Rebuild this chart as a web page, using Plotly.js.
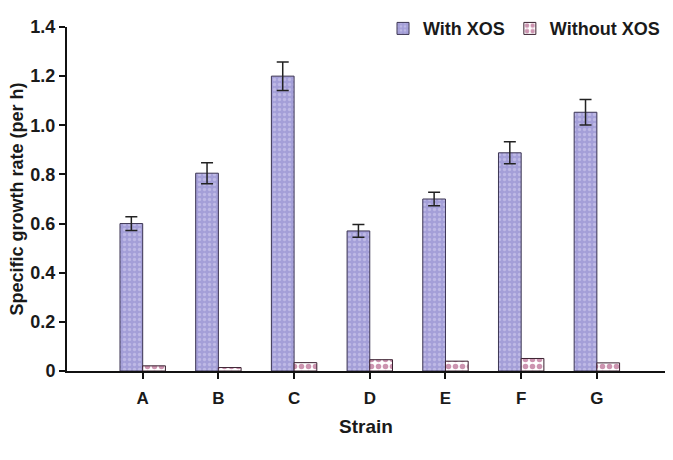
<!DOCTYPE html>
<html>
<head>
<meta charset="utf-8">
<script src="https://cdn.plot.ly/plotly-3.0.1.min.js"></script>
<style>html,body{margin:0;padding:0;background:#fff;}#chart{width:673px;height:460px;}</style>
</head>
<body>
<div id="chart"></div>
<script>
var strains = ["A", "B", "C", "D", "E", "F", "G"];
var withXOS = [0.60, 0.805, 1.20, 0.57, 0.70, 0.888, 1.053];
var withXOSErr = [0.028, 0.043, 0.058, 0.026, 0.027, 0.045, 0.052];
var withoutXOS = [0.021, 0.014, 0.034, 0.046, 0.040, 0.051, 0.033];
var yTicks = [0, 0.2, 0.4, 0.6, 0.8, 1.0, 1.2, 1.4];
var yTickText = ["0", "0.2", "0.4", "0.6", "0.8", "1.0", "1.2", "1.4"];

var fam = "Liberation Sans, Arial, sans-serif";
var txt = "#1a1a1a";

var traces = [
  {
    type: "bar", name: "With XOS", x: strains, y: withXOS,
    marker: {color: "#a49fd8", line: {color: "#3b3452", width: 1},
             pattern: {shape: ".", fgcolor: "#d8d4f2", bgcolor: "#a49fd8", size: 5, solidity: 0.35, fillmode: "overlay"}},
    error_y: {type: "data", array: withXOSErr, visible: true, color: "#222", thickness: 1.5, width: 6}
  },
  {
    type: "bar", name: "Without XOS", x: strains, y: withoutXOS,
    marker: {color: "#ffffff", line: {color: "#3a2030", width: 1},
             pattern: {shape: ".", fgcolor: "#9a2a62", bgcolor: "#ffffff", size: 7, solidity: 0.5, fillmode: "overlay"}}
  }
];

var layout = {
  width: 673, height: 460,
  margin: {l: 67, r: 8, t: 27, b: 89},
  paper_bgcolor: "#ffffff", plot_bgcolor: "#ffffff",
  barmode: "group", bargap: 0.4, bargroupgap: 0,
  font: {family: fam, size: 17, color: txt, weight: "bold"},
  showlegend: true,
  legend: {orientation: "h", x: 1.0, xanchor: "right", y: 0.995, yanchor: "middle",
           font: {family: fam, size: 18, color: txt, weight: "bold"},
           bgcolor: "rgba(0,0,0,0)", itemwidth: 30, traceorder: "normal"},
  xaxis: {
    type: "category", range: [-1, 6.9], showline: true, linecolor: "#111", linewidth: 2,
    ticks: "outside", ticklen: 6, tickwidth: 2, tickcolor: "#111", ticklabelstandoff: 5,
    showgrid: false, zeroline: false, fixedrange: true,
    tickfont: {family: fam, size: 17, color: txt, weight: "bold"},
    title: {text: "Strain", font: {family: fam, size: 19, color: txt, weight: "bold"}, standoff: 12}
  },
  yaxis: {
    range: [0, 1.4], tickvals: yTicks, ticktext: yTickText, showline: true, linecolor: "#111", linewidth: 2,
    ticks: "outside", ticklen: 6, tickwidth: 2, tickcolor: "#111",
    showgrid: false, zeroline: false, fixedrange: true,
    tickfont: {family: fam, size: 18, color: txt, weight: "bold"},
    title: {text: "Specific growth rate (per h)", font: {family: fam, size: 18, color: txt, weight: "bold"}, standoff: 2}
  }
};

Plotly.newPlot("chart", traces, layout, {displayModeBar: false, staticPlot: true});
</script>
</body>
</html>
